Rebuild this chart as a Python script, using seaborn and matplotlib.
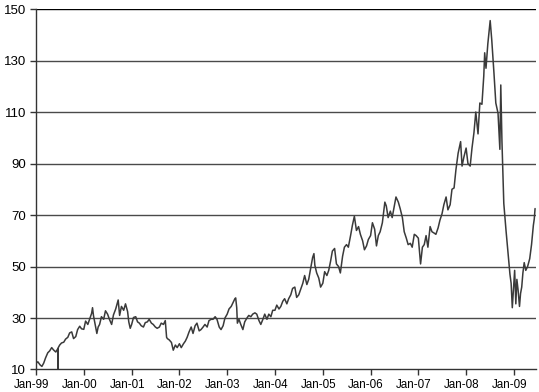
import matplotlib
matplotlib.use("Agg")
import matplotlib.pyplot as plt
import matplotlib.dates as mdates
import matplotlib.transforms as mtransforms
import seaborn as sns
import pandas as pd

# ---- data ----
dates = [
    "1999-01-04", "1999-01-15", "1999-02-01", "1999-02-15", "1999-03-01", "1999-03-15",
    "1999-04-01", "1999-04-15", "1999-05-01", "1999-05-15", "1999-06-01", "1999-06-16",
    "1999-06-17", "1999-06-18", "1999-07-01", "1999-07-15", "1999-08-01", "1999-08-15",
    "1999-09-01", "1999-09-15", "1999-10-01", "1999-10-15", "1999-11-01", "1999-11-15",
    "1999-12-01", "1999-12-15",
    "2000-01-01", "2000-01-15", "2000-02-01", "2000-02-15", "2000-03-01", "2000-03-08",
    "2000-03-15", "2000-04-01", "2000-04-10", "2000-04-20", "2000-05-01", "2000-05-15",
    "2000-06-01", "2000-06-15", "2000-07-01", "2000-07-15", "2000-08-01", "2000-08-15",
    "2000-09-01", "2000-09-20", "2000-10-01", "2000-10-15", "2000-11-01", "2000-11-15",
    "2000-12-01", "2000-12-10", "2000-12-21",
    "2001-01-01", "2001-01-15", "2001-02-01", "2001-02-15", "2001-03-01", "2001-03-15",
    "2001-04-01", "2001-04-15", "2001-05-01", "2001-05-15", "2001-06-01", "2001-06-15",
    "2001-07-01", "2001-07-15", "2001-08-01", "2001-08-15", "2001-09-01", "2001-09-15",
    "2001-09-25", "2001-10-01", "2001-10-15", "2001-11-01", "2001-11-15", "2001-12-01",
    "2001-12-15",
    "2002-01-01", "2002-01-15", "2002-02-01", "2002-02-15", "2002-03-01", "2002-03-15",
    "2002-04-01", "2002-04-15", "2002-05-01", "2002-05-15", "2002-06-01", "2002-06-15",
    "2002-07-01", "2002-07-15", "2002-08-01", "2002-08-15", "2002-09-01", "2002-09-15",
    "2002-10-01", "2002-10-15", "2002-11-01", "2002-11-15", "2002-12-01", "2002-12-15",
    "2003-01-01", "2003-01-15", "2003-02-01", "2003-02-15", "2003-03-01", "2003-03-07",
    "2003-03-15", "2003-03-20", "2003-04-01", "2003-04-15", "2003-05-01", "2003-05-15",
    "2003-06-01", "2003-06-15", "2003-07-01", "2003-07-15", "2003-08-01", "2003-08-15",
    "2003-09-01", "2003-09-15", "2003-10-01", "2003-10-15", "2003-11-01", "2003-11-15",
    "2003-12-01", "2003-12-15",
    "2004-01-01", "2004-01-15", "2004-02-01", "2004-02-15", "2004-03-01", "2004-03-15",
    "2004-04-01", "2004-04-15", "2004-05-01", "2004-05-15", "2004-06-01", "2004-06-15",
    "2004-07-01", "2004-07-15", "2004-08-01", "2004-08-15", "2004-09-01", "2004-09-15",
    "2004-10-01", "2004-10-15", "2004-10-25", "2004-11-01", "2004-11-15", "2004-12-01",
    "2004-12-15",
    "2005-01-01", "2005-01-15", "2005-02-01", "2005-02-15", "2005-03-01", "2005-03-15",
    "2005-04-01", "2005-04-15", "2005-05-01", "2005-05-15", "2005-06-01", "2005-06-15",
    "2005-07-01", "2005-07-15", "2005-08-01", "2005-08-15", "2005-08-30", "2005-09-15",
    "2005-10-01", "2005-10-15", "2005-11-01", "2005-11-15", "2005-12-01", "2005-12-15",
    "2006-01-01", "2006-01-15", "2006-02-01", "2006-02-15", "2006-03-01", "2006-03-15",
    "2006-04-01", "2006-04-20", "2006-05-01", "2006-05-15", "2006-06-01", "2006-06-15",
    "2006-07-01", "2006-07-14", "2006-08-01", "2006-08-15", "2006-09-01", "2006-09-15",
    "2006-10-01", "2006-10-15", "2006-11-01", "2006-11-15", "2006-12-01", "2006-12-15",
    "2007-01-01", "2007-01-18", "2007-02-01", "2007-02-15", "2007-03-01", "2007-03-15",
    "2007-04-01", "2007-04-15", "2007-05-01", "2007-05-15", "2007-06-01", "2007-06-15",
    "2007-07-01", "2007-07-15", "2007-08-01", "2007-08-15", "2007-09-01", "2007-09-15",
    "2007-10-01", "2007-10-15", "2007-11-01", "2007-11-20", "2007-12-01", "2007-12-15",
    "2008-01-01", "2008-01-15", "2008-02-01", "2008-02-15", "2008-03-01", "2008-03-15",
    "2008-04-01", "2008-04-15", "2008-05-01", "2008-05-15", "2008-05-22", "2008-06-01",
    "2008-06-15", "2008-07-03", "2008-07-15", "2008-08-01", "2008-08-15", "2008-09-01",
    "2008-09-15", "2008-09-22", "2008-10-01", "2008-10-15", "2008-11-01", "2008-11-15",
    "2008-12-01", "2008-12-10", "2008-12-19",
    "2009-01-01", "2009-01-06", "2009-01-15", "2009-01-23", "2009-02-01", "2009-02-12",
    "2009-02-20", "2009-03-01", "2009-03-10", "2009-03-20", "2009-04-01", "2009-04-15",
    "2009-05-01", "2009-05-15", "2009-05-29", "2009-06-05", "2009-06-11",
]
prices = [
    12.5, 13.0, 11.8, 11.2, 12.5, 14.5,
    16.5, 17.2, 18.5, 17.6, 16.8, 18.0,
    10.0, 18.3, 19.5, 20.3, 20.6, 21.8,
    22.5, 24.2, 24.6, 22.0, 22.8, 25.5,
    26.8, 25.8,
    25.6, 28.8, 27.5, 29.6, 31.8, 34.0,
    31.0, 26.5, 24.0, 26.5, 27.5, 30.5,
    29.5, 32.8, 31.5, 29.5, 27.5, 31.2,
    33.5, 37.0, 31.0, 34.5, 33.0, 35.5,
    32.5, 28.5, 26.0,
    27.5, 30.2, 30.5, 28.5, 28.0, 27.0,
    26.5, 28.2, 28.5, 29.5, 28.0, 27.5,
    26.5, 26.0, 26.5, 28.0, 27.5, 29.0,
    22.5, 22.0, 21.5, 20.5, 17.5, 19.5,
    18.5,
    20.0, 18.5, 20.0, 21.0, 22.5, 24.5,
    26.5, 24.0, 27.0, 28.0, 25.0, 25.5,
    26.5, 27.5, 26.5, 29.0, 29.5, 29.5,
    30.5, 29.5, 26.5, 25.5, 27.0, 30.0,
    31.5, 33.5, 34.5, 36.0, 37.5, 37.8,
    34.0, 28.0, 29.5, 27.5, 25.5, 28.5,
    30.0, 31.0, 30.5, 31.5, 32.0, 31.5,
    29.0, 27.5, 29.5, 31.5, 29.5, 31.5,
    30.5, 33.0,
    33.0, 35.0, 33.5, 34.5, 36.5, 37.5,
    35.5, 37.5, 39.0, 41.5, 42.0, 38.0,
    39.0, 41.0, 43.5, 46.5, 43.0, 45.0,
    49.5, 53.5, 55.0, 50.5, 47.5, 45.5,
    42.0,
    43.5, 48.0, 46.5, 48.5, 52.0, 56.0,
    57.0, 51.0, 50.0, 47.5, 54.0, 57.5,
    58.5, 57.5, 62.0, 66.0, 69.5, 64.0,
    65.5, 62.5, 60.0, 56.5, 58.0, 60.5,
    62.0, 67.0, 64.5, 58.0, 62.0, 63.5,
    67.0, 75.0, 73.5, 69.0, 71.5, 69.0,
    73.5, 77.0, 75.0, 72.5, 69.0, 63.5,
    61.0, 58.5, 59.0, 57.5, 62.5, 62.0,
    61.0, 51.0, 57.5, 58.5, 62.0, 57.5,
    65.5, 63.5, 63.0, 62.5, 65.0, 68.0,
    70.5, 74.0, 77.0, 72.0, 74.0, 80.0,
    80.5, 87.5, 94.0, 98.5, 89.0, 92.5,
    96.0, 90.0, 89.0, 96.0, 102.0, 110.0,
    101.5, 113.5, 113.0, 124.0, 133.0, 127.0,
    136.5, 145.5, 138.0, 125.0, 113.5, 109.5,
    95.5, 120.5, 98.5, 74.5, 64.0, 56.0,
    47.0, 43.5, 34.0,
    44.5, 48.5, 35.5, 45.0, 41.0, 34.5,
    39.5, 42.0, 47.5, 51.5, 48.5, 50.0,
    53.0, 58.5, 66.0, 68.5, 72.5,
]
y_ticks = [10, 30, 50, 70, 90, 110, 130, 150]

df = pd.DataFrame({"date": pd.to_datetime(dates), "price": prices})

sns.set_style("white")
plt.rcParams["font.family"] = ["Liberation Sans", "DejaVu Sans"]

fig = plt.figure(figsize=(5.39, 3.92), dpi=100)
ax = fig.add_axes([0.0668, 0.0574, 0.9276, 0.9196])

for v in y_ticks[1:]:
    ax.axhline(v, color="#000000" if v == 150 else "#4a4a4a", lw=1.0, zorder=1)

sns.lineplot(data=df, x="date", y="price", ax=ax, color="#3a3a3a", lw=1.1, zorder=3)

ax.set_xlim(pd.Timestamp("1999-01-01"), pd.Timestamp("2009-06-18"))
ax.set_ylim(10, 150)
ax.set_yticks(y_ticks)
ax.xaxis.set_major_locator(mdates.YearLocator())
ax.xaxis.set_major_formatter(mdates.DateFormatter("%b-%y"))
ax.set_xlabel("")
ax.set_ylabel("")

for s in ["top", "right"]:
    ax.spines[s].set_visible(False)
for s in ["left", "bottom"]:
    ax.spines[s].set_color("#333333")
    ax.spines[s].set_linewidth(1.0)

ax.tick_params(axis="both", direction="out", length=4, width=1, color="#333333",
               colors="#000000", left=True, bottom=True)
ax.tick_params(axis="y", labelsize=9.5, pad=3)
ax.tick_params(axis="x", labelsize=8.4, pad=2.5)

shift = mtransforms.ScaledTranslation(-4.5 / 100, 0, fig.dpi_scale_trans)
for lbl in ax.get_xticklabels():
    lbl.set_transform(lbl.get_transform() + shift)

fig.savefig("out.png", dpi=100)
